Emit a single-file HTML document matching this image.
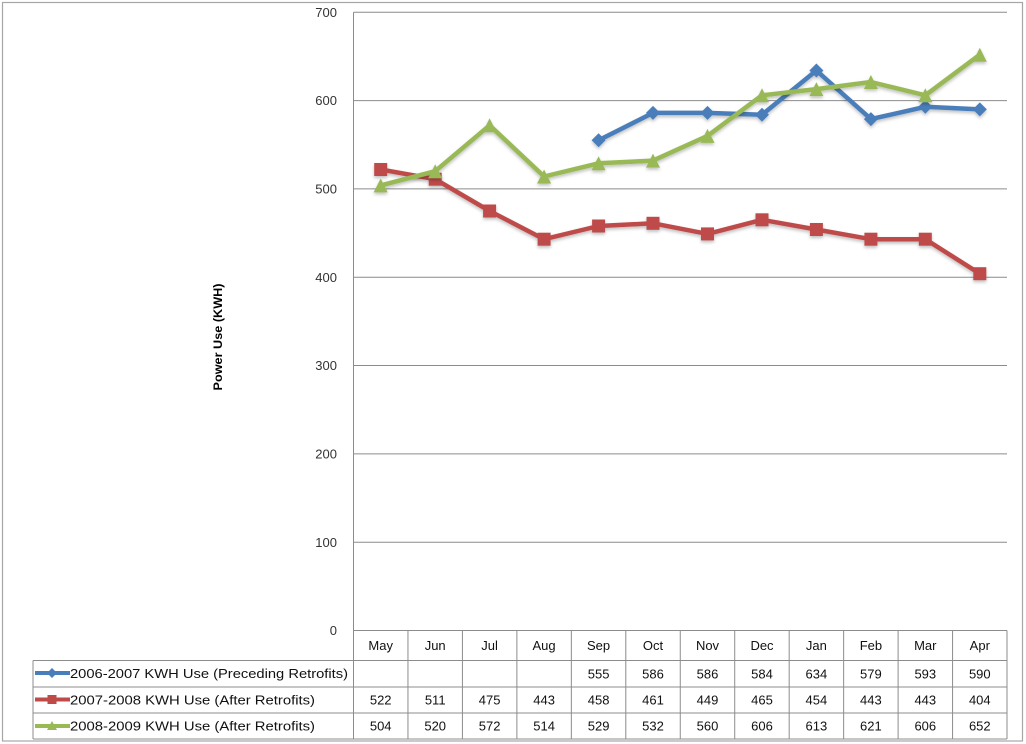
<!DOCTYPE html>
<html>
<head>
<meta charset="utf-8">
<style>
  html, body { margin: 0; padding: 0; background: #ffffff; }
  svg { display: block; }
  text { font-family: "Liberation Sans", "DejaVu Sans", sans-serif; }
</style>
</head>
<body>
<svg width="1026" height="744" viewBox="0 0 1026 744" xmlns="http://www.w3.org/2000/svg">
  <defs>
    <filter id="sh" x="-10%" y="-10%" width="120%" height="130%">
      <feDropShadow dx="0" dy="2" stdDeviation="1.5" flood-color="#000" flood-opacity="0.25"/>
    </filter>
  </defs>
  <rect x="0" y="0" width="1026" height="744" fill="#fff"/>
  <!-- outer frame -->
  <rect x="2.5" y="2.5" width="1020" height="738.5" fill="none" stroke="#a6a6a6" stroke-width="1.2"/>

  <!-- gridlines -->
  <g stroke="#8c8c8c" stroke-width="1">
    <line x1="353.5" y1="12.3" x2="1007" y2="12.3"/>
    <line x1="353.5" y1="100.6" x2="1007" y2="100.6"/>
    <line x1="353.5" y1="188.9" x2="1007" y2="188.9"/>
    <line x1="353.5" y1="277.2" x2="1007" y2="277.2"/>
    <line x1="353.5" y1="365.5" x2="1007" y2="365.5"/>
    <line x1="353.5" y1="453.9" x2="1007" y2="453.9"/>
    <line x1="353.5" y1="542.2" x2="1007" y2="542.2"/>
    <line x1="353.5" y1="630.5" x2="1007" y2="630.5"/>
    <!-- axis -->
    <line x1="353.5" y1="12.3" x2="353.5" y2="739"/>
  </g>

  <!-- y tick labels -->
  <g font-size="13" fill="#333" text-anchor="end">
    <text x="337" y="17">700</text>
    <text x="337" y="105">600</text>
    <text x="337" y="193.5">500</text>
    <text x="337" y="282">400</text>
    <text x="337" y="370">300</text>
    <text x="337" y="458.5">200</text>
    <text x="337" y="547">100</text>
    <text x="337" y="635">0</text>
  </g>

  <!-- y axis title -->
  <text transform="translate(222,337) rotate(-90)" text-anchor="middle" font-size="12" font-weight="bold" fill="#000" textLength="107" lengthAdjust="spacingAndGlyphs">Power Use (KWH)</text>

  <!-- table grid -->
  <g stroke="#8c8c8c" stroke-width="1">
    <line x1="33" y1="660.5" x2="1007" y2="660.5"/>
    <line x1="33" y1="687" x2="1007" y2="687"/>
    <line x1="33" y1="713" x2="1007" y2="713"/>
    <line x1="33" y1="739" x2="1007" y2="739"/>
    <line x1="33" y1="660.5" x2="33" y2="739"/>
    <line x1="407.96" y1="630.5" x2="407.96" y2="739"/>
    <line x1="462.42" y1="630.5" x2="462.42" y2="739"/>
    <line x1="516.88" y1="630.5" x2="516.88" y2="739"/>
    <line x1="571.34" y1="630.5" x2="571.34" y2="739"/>
    <line x1="625.8" y1="630.5" x2="625.8" y2="739"/>
    <line x1="680.26" y1="630.5" x2="680.26" y2="739"/>
    <line x1="734.72" y1="630.5" x2="734.72" y2="739"/>
    <line x1="789.18" y1="630.5" x2="789.18" y2="739"/>
    <line x1="843.64" y1="630.5" x2="843.64" y2="739"/>
    <line x1="898.1" y1="630.5" x2="898.1" y2="739"/>
    <line x1="952.56" y1="630.5" x2="952.56" y2="739"/>
    <line x1="1007" y1="630.5" x2="1007" y2="739"/>
  </g>

  <!-- month headers -->
  <g font-size="13" fill="#111" text-anchor="middle">
    <text x="380.7" y="650">May</text>
    <text x="435.2" y="650">Jun</text>
    <text x="489.6" y="650">Jul</text>
    <text x="544.1" y="650">Aug</text>
    <text x="598.6" y="650">Sep</text>
    <text x="653.0" y="650">Oct</text>
    <text x="707.5" y="650">Nov</text>
    <text x="762.0" y="650">Dec</text>
    <text x="816.4" y="650">Jan</text>
    <text x="870.9" y="650">Feb</text>
    <text x="925.3" y="650">Mar</text>
    <text x="979.8" y="650">Apr</text>
  </g>

  <!-- row 1 values -->
  <g font-size="13" fill="#111" text-anchor="middle">
    <text x="598.6" y="678.5">555</text>
    <text x="653.0" y="678.5">586</text>
    <text x="707.5" y="678.5">586</text>
    <text x="762.0" y="678.5">584</text>
    <text x="816.4" y="678.5">634</text>
    <text x="870.9" y="678.5">579</text>
    <text x="925.3" y="678.5">593</text>
    <text x="979.8" y="678.5">590</text>
  </g>
  <!-- row 2 values -->
  <g font-size="13" fill="#111" text-anchor="middle">
    <text x="380.7" y="704.5">522</text>
    <text x="435.2" y="704.5">511</text>
    <text x="489.6" y="704.5">475</text>
    <text x="544.1" y="704.5">443</text>
    <text x="598.6" y="704.5">458</text>
    <text x="653.0" y="704.5">461</text>
    <text x="707.5" y="704.5">449</text>
    <text x="762.0" y="704.5">465</text>
    <text x="816.4" y="704.5">454</text>
    <text x="870.9" y="704.5">443</text>
    <text x="925.3" y="704.5">443</text>
    <text x="979.8" y="704.5">404</text>
  </g>
  <!-- row 3 values -->
  <g font-size="13" fill="#111" text-anchor="middle">
    <text x="380.7" y="730.5">504</text>
    <text x="435.2" y="730.5">520</text>
    <text x="489.6" y="730.5">572</text>
    <text x="544.1" y="730.5">514</text>
    <text x="598.6" y="730.5">529</text>
    <text x="653.0" y="730.5">532</text>
    <text x="707.5" y="730.5">560</text>
    <text x="762.0" y="730.5">606</text>
    <text x="816.4" y="730.5">613</text>
    <text x="870.9" y="730.5">621</text>
    <text x="925.3" y="730.5">606</text>
    <text x="979.8" y="730.5">652</text>
  </g>

  <!-- legend keys -->
  <g>
    <line x1="35" y1="673" x2="70" y2="673" stroke="#4A7EBB" stroke-width="4"/>
    <path d="M52,668 L57,673 L52,678 L47,673 Z" fill="#4A7EBB"/>
    <line x1="35" y1="699.5" x2="70" y2="699.5" stroke="#BE4B48" stroke-width="4"/>
    <rect x="47.5" y="695" width="9" height="9" fill="#BE4B48"/>
    <line x1="35" y1="726" x2="70" y2="726" stroke="#98B954" stroke-width="4"/>
    <path d="M52,721 L57,730 L47,730 Z" fill="#98B954"/>
  </g>
  <g font-size="13" fill="#111">
    <text x="70" y="678" textLength="278" lengthAdjust="spacingAndGlyphs">2006-2007 KWH Use (Preceding Retrofits)</text>
    <text x="70" y="704.5" textLength="245" lengthAdjust="spacingAndGlyphs">2007-2008 KWH Use (After Retrofits)</text>
    <text x="70" y="730.5" textLength="245" lengthAdjust="spacingAndGlyphs">2008-2009 KWH Use (After Retrofits)</text>
  </g>

  <!-- series: red -->
  <g filter="url(#sh)">
    <polyline fill="none" stroke="#BE4B48" stroke-width="4.5" stroke-linejoin="round"
      points="380.7,169.5 435.2,179.2 489.6,211.0 544.1,239.2 598.6,226.0 653.0,223.3 707.5,233.9 762.0,219.8 816.4,229.5 870.9,239.2 925.3,239.2 979.8,273.7"/>
    <g fill="#BE4B48">
      <rect x="374.2" y="163" width="13" height="13"/>
      <rect x="428.7" y="172.7" width="13" height="13"/>
      <rect x="483.1" y="204.5" width="13" height="13"/>
      <rect x="537.6" y="232.7" width="13" height="13"/>
      <rect x="592.1" y="219.5" width="13" height="13"/>
      <rect x="646.5" y="216.8" width="13" height="13"/>
      <rect x="701.0" y="227.4" width="13" height="13"/>
      <rect x="755.5" y="213.3" width="13" height="13"/>
      <rect x="809.9" y="223" width="13" height="13"/>
      <rect x="864.4" y="232.7" width="13" height="13"/>
      <rect x="918.8" y="232.7" width="13" height="13"/>
      <rect x="973.3" y="267.2" width="13" height="13"/>
    </g>
  </g>

  <!-- series: blue -->
  <g filter="url(#sh)">
    <polyline fill="none" stroke="#4A7EBB" stroke-width="4.5" stroke-linejoin="round"
      points="598.6,140.3 653.0,112.9 707.5,112.9 762.0,114.7 816.4,70.5 870.9,119.1 925.3,106.8 979.8,109.4"/>
    <g fill="#4A7EBB">
      <path d="M598.6,133.3 L605.6,140.3 L598.6,147.3 L591.6,140.3 Z"/>
      <path d="M653.0,105.9 L660.0,112.9 L653.0,119.9 L646.0,112.9 Z"/>
      <path d="M707.5,105.9 L714.5,112.9 L707.5,119.9 L700.5,112.9 Z"/>
      <path d="M762.0,107.7 L769.0,114.7 L762.0,121.7 L755.0,114.7 Z"/>
      <path d="M816.4,63.5 L823.4,70.5 L816.4,77.5 L809.4,70.5 Z"/>
      <path d="M870.9,112.1 L877.9,119.1 L870.9,126.1 L863.9,119.1 Z"/>
      <path d="M925.3,99.8 L932.3,106.8 L925.3,113.8 L918.3,106.8 Z"/>
      <path d="M979.8,102.4 L986.8,109.4 L979.8,116.4 L972.8,109.4 Z"/>
    </g>
  </g>

  <!-- series: green -->
  <g filter="url(#sh)">
    <polyline fill="none" stroke="#98B954" stroke-width="4.5" stroke-linejoin="round"
      points="380.7,185.4 435.2,171.2 489.6,125.3 544.1,176.5 598.6,163.3 653.0,160.6 707.5,135.9 762.0,95.3 816.4,89.1 870.9,82.0 925.3,95.3 979.8,54.7"/>
    <g fill="#98B954">
      <path d="M380.7,178.4 L387.7,192.4 L373.7,192.4 Z"/>
      <path d="M435.2,164.2 L442.2,178.2 L428.2,178.2 Z"/>
      <path d="M489.6,118.3 L496.6,132.3 L482.6,132.3 Z"/>
      <path d="M544.1,169.5 L551.1,183.5 L537.1,183.5 Z"/>
      <path d="M598.6,156.3 L605.6,170.3 L591.6,170.3 Z"/>
      <path d="M653.0,153.6 L660.0,167.6 L646.0,167.6 Z"/>
      <path d="M707.5,128.9 L714.5,142.9 L700.5,142.9 Z"/>
      <path d="M762.0,88.3 L769.0,102.3 L755.0,102.3 Z"/>
      <path d="M816.4,82.1 L823.4,96.1 L809.4,96.1 Z"/>
      <path d="M870.9,75.0 L877.9,89.0 L863.9,89.0 Z"/>
      <path d="M925.3,88.3 L932.3,102.3 L918.3,102.3 Z"/>
      <path d="M979.8,47.7 L986.8,61.7 L972.8,61.7 Z"/>
    </g>
  </g>
</svg>
</body>
</html>
